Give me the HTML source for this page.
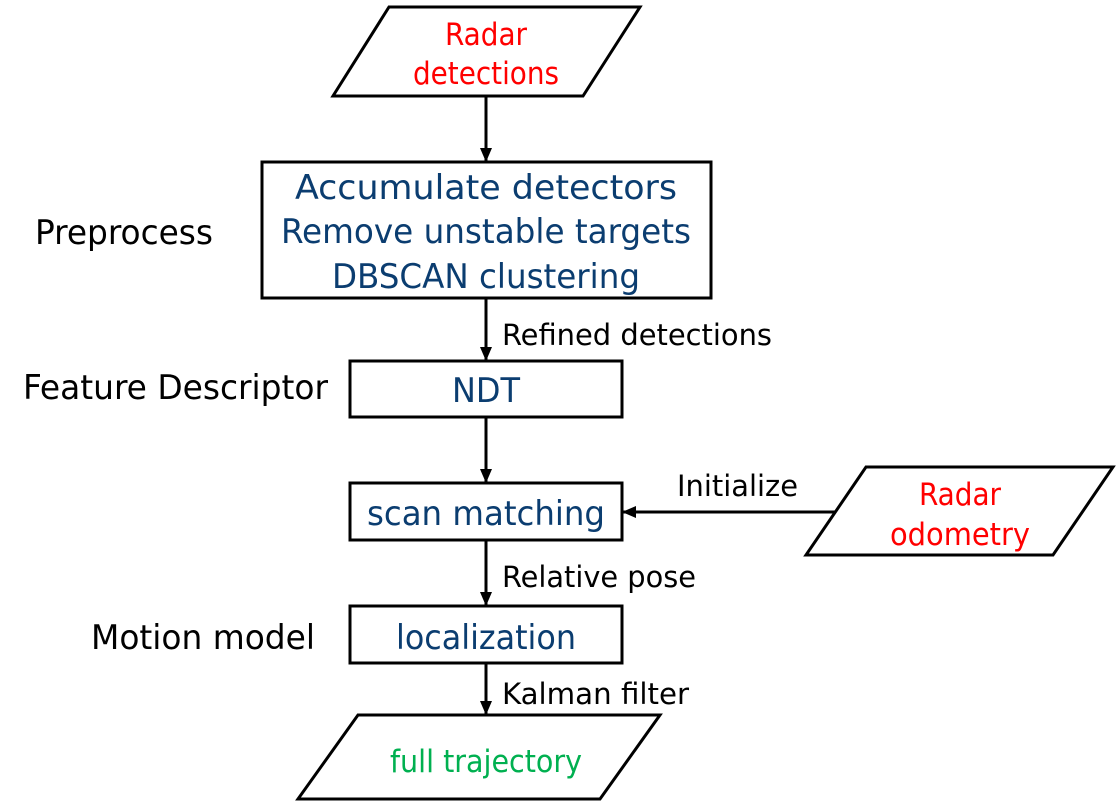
<!DOCTYPE html>
<html><head><meta charset="utf-8"><style>html,body{margin:0;padding:0;background:#fff}</style></head>
<body>
<svg width="1116" height="801" viewBox="0 0 1116 801" xmlns="http://www.w3.org/2000/svg" font-family="'DejaVu Sans Condensed','DejaVu Sans','Liberation Sans',sans-serif">
<defs><marker id="a" markerWidth="14" markerHeight="14" refX="13" refY="7" orient="auto" markerUnits="userSpaceOnUse"><path d="M0,1 L14,7 L0,13 z" fill="#000"/></marker></defs>
<g fill="none" stroke="#000" stroke-width="3">
<polygon points="389,7 640,7 583,96 333,96" fill="#fff"/>
<rect x="262" y="162" width="449" height="136"/>
<rect x="350" y="361" width="272" height="56"/>
<rect x="350" y="483" width="272" height="57"/>
<rect x="350" y="606" width="272" height="57"/>
<polygon points="358,715 660,715 600,799 298,799"/>
<polygon points="866,467 1113,467 1053,555 806,555"/>
<line x1="486" y1="96" x2="486" y2="161" marker-end="url(#a)"/>
<line x1="486" y1="298" x2="486" y2="360" marker-end="url(#a)"/>
<line x1="486" y1="417" x2="486" y2="482" marker-end="url(#a)"/>
<line x1="486" y1="540" x2="486" y2="605" marker-end="url(#a)"/>
<line x1="486" y1="663" x2="486" y2="714" marker-end="url(#a)"/>
<line x1="835" y1="512" x2="623" y2="512" marker-end="url(#a)"/>
</g>
<g text-anchor="middle" font-size="34">
<text x="486" y="45" fill="#ff0000" font-size="31">Radar</text>
<text x="486" y="84" fill="#ff0000" font-size="31" textLength="146" lengthAdjust="spacingAndGlyphs">detections</text>
<g fill="#0b3d70">
<text x="486" y="199" textLength="382" lengthAdjust="spacingAndGlyphs">Accumulate detectors</text>
<text x="486" y="243" textLength="410" lengthAdjust="spacingAndGlyphs">Remove unstable targets</text>
<text x="486" y="288" textLength="308" lengthAdjust="spacingAndGlyphs">DBSCAN clustering</text>
<text x="486" y="402" textLength="68" lengthAdjust="spacingAndGlyphs">NDT</text>
<text x="486" y="525" textLength="238" lengthAdjust="spacingAndGlyphs">scan matching</text>
<text x="486" y="649" textLength="180" lengthAdjust="spacingAndGlyphs">localization</text>
</g>
<text x="486" y="772" fill="#00b050" font-size="31" textLength="192" lengthAdjust="spacingAndGlyphs">full trajectory</text>
<text x="960" y="505" fill="#ff0000" font-size="31">Radar</text>
<text x="960" y="545" fill="#ff0000" font-size="31" textLength="140" lengthAdjust="spacingAndGlyphs">odometry</text>
</g>
<g font-size="29" fill="#000">
<text x="502" y="345" textLength="270" lengthAdjust="spacingAndGlyphs">Refined detections</text>
<text x="502" y="587" textLength="194" lengthAdjust="spacingAndGlyphs">Relative pose</text>
<text x="502" y="704" textLength="187" lengthAdjust="spacingAndGlyphs">Kalman filter</text>
<text x="677" y="496" textLength="121" lengthAdjust="spacingAndGlyphs">Initialize</text>
</g>
<g font-size="34" fill="#000">
<text x="35" y="244" textLength="178" lengthAdjust="spacingAndGlyphs">Preprocess</text>
<text x="23" y="399" textLength="305" lengthAdjust="spacingAndGlyphs">Feature Descriptor</text>
<text x="91" y="649" textLength="224" lengthAdjust="spacingAndGlyphs">Motion model</text>
</g>
</svg>
</body></html>
